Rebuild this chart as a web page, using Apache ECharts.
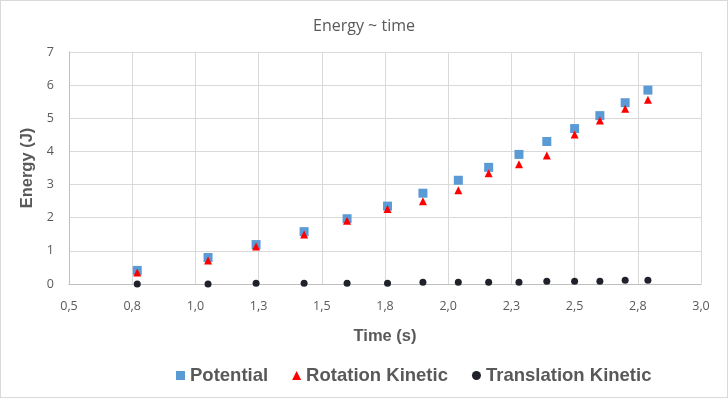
<!DOCTYPE html>
<html>
<head>
<meta charset="utf-8">
<script src="https://cdn.jsdelivr.net/npm/echarts@6/dist/echarts.min.js"></script>
<style>
  html, body { margin: 0; padding: 0; background: #fff; }
  #chart { width: 726px; height: 396px; border: 1px solid #d9d9d9; }
</style>
</head>
<body>
<div id="chart"></div>
<script>
// time of each measurement (s)
const times = [0.77, 1.05, 1.24, 1.43, 1.60, 1.76, 1.90, 2.04, 2.16, 2.28, 2.39, 2.50, 2.60, 2.70, 2.79]
const potential = [0.41, 0.80, 1.19, 1.58, 1.97, 2.35, 2.74, 3.13, 3.52, 3.91, 4.30, 4.69, 5.08, 5.47, 5.85]
const rotationKinetic = [0.35, 0.71, 1.13, 1.49, 1.91, 2.26, 2.50, 2.83, 3.34, 3.61, 3.88, 4.51, 4.93, 5.29, 5.56]
const translationKinetic = [0.00, 0.00, 0.02, 0.02, 0.02, 0.02, 0.05, 0.05, 0.05, 0.05, 0.08, 0.08, 0.08, 0.11, 0.11]
const xTickLabels = ['0,5', '0,8', '1,0', '1,3', '1,5', '1,8', '2,0', '2,3', '2,5', '2,8', '3,0']

function pairs(ys) {
  return times.map((t, i) => [t, ys[i]])
}

const chart = echarts.init(document.getElementById('chart'))
const grey = '#595959'
chart.setOption({
  animation: false,
  title: {
    text: 'Energy ~ time',
    left: 'center',
    top: 12,
    textStyle: { fontFamily: 'Open Sans', fontSize: 16, fontWeight: 'normal', color: grey },
  },
  grid: { left: 68, right: 26, top: 51, bottom: 113 },
  legend: {
    bottom: 7,
    left: 170,
    itemGap: 24,
    itemWidth: 9,
    itemHeight: 9,
    textStyle: { fontFamily: 'Liberation Sans', fontSize: 18.5, fontWeight: 'bold', color: grey },
    data: [
      { name: 'Potential', icon: 'rect', itemStyle: { color: '#5b9bd5' } },
      { name: 'Rotation Kinetic', icon: 'triangle', itemStyle: { color: '#ff0000' } },
      { name: 'Translation Kinetic', icon: 'circle', itemStyle: { color: '#1f222a' } },
    ],
  },
  xAxis: {
    type: 'value',
    min: 0.5,
    max: 3.0,
    interval: 0.25,
    name: 'Time (s)',
    nameLocation: 'middle',
    nameGap: 44,
    nameTextStyle: { fontFamily: 'Liberation Sans', fontSize: 16.5, fontWeight: 'bold', color: grey },
    axisLine: { show: true, lineStyle: { color: '#bfbfbf' } },
    axisTick: { show: false },
    axisLabel: {
      margin: 16,
      color: grey,
      fontFamily: 'Open Sans',
      fontSize: 12.5,
      formatter: v => xTickLabels[Math.round((v - 0.5) / 0.25)],
    },
    splitLine: { show: true, lineStyle: { color: '#d9d9d9' } },
  },
  yAxis: {
    type: 'value',
    min: 0,
    max: 7,
    interval: 1,
    name: 'Energy (J)',
    nameLocation: 'middle',
    nameGap: 31,
    nameTextStyle: { fontFamily: 'Liberation Sans', fontSize: 16.5, fontWeight: 'bold', color: grey },
    axisLine: { show: true, lineStyle: { color: '#bfbfbf' } },
    axisTick: { show: false },
    axisLabel: { margin: 15, color: grey, fontFamily: 'Open Sans', fontSize: 12.5 },
    splitLine: { show: true, lineStyle: { color: '#d9d9d9' } },
  },
  series: [
    {
      name: 'Potential',
      type: 'scatter',
      symbol: 'rect',
      symbolSize: 9,
      itemStyle: { color: '#5b9bd5', opacity: 1 },
      data: pairs(potential),
    },
    {
      name: 'Rotation Kinetic',
      type: 'scatter',
      symbol: 'triangle',
      symbolSize: 8,
      itemStyle: { color: '#ff0000', opacity: 1 },
      data: pairs(rotationKinetic),
    },
    {
      name: 'Translation Kinetic',
      type: 'scatter',
      symbol: 'circle',
      symbolSize: 7,
      itemStyle: { color: '#1f222a', opacity: 1 },
      data: pairs(translationKinetic),
    },
  ],
})
</script>
</body>
</html>
